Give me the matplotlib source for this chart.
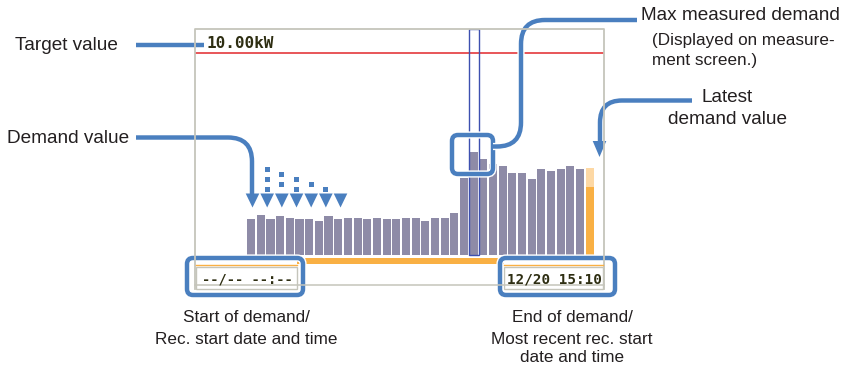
import numpy as np
import matplotlib
matplotlib.use("Agg")
import matplotlib.pyplot as plt
from matplotlib.path import Path
from matplotlib.patches import PathPatch, Polygon, Rectangle, FancyBboxPatch
import matplotlib.patheffects as pe

# ── data (kW) ────────────────────────────────────────────────────────────
demand = [1.75, 1.98, 1.75, 1.90, 1.83, 1.75, 1.75, 1.66, 1.90, 1.75,
          1.83, 1.83, 1.75, 1.83, 1.75, 1.75, 1.83, 1.83, 1.66, 1.83,
          1.83, 2.07, 3.81, 5.10, 4.72, 4.48, 4.39, 4.06, 4.06, 3.73,
          4.23, 4.14, 4.23, 4.39, 4.23]
latest_now = 3.35
latest_pred = 4.31
target_kw = 10.0
target_label = "10.00kW"
start_label = "--/-- --:--"
end_label = "12/20 15:10"

BAR = "#8e8ba7"
ORANGE = "#f9b044"
ORANGE_LT = "#fdd8a4"
BLUE = "#4a7fbf"
FRAME = "#c5c5bb"
RED = "#e4383c"
TXT = "#231f20"
LCD = "#2e2e12"

W, H = 852, 366
fig = plt.figure(figsize=(W / 100, H / 100), dpi=100, facecolor="white")

# ── screen (chart) axes, placed in pixel space ──────────────────────────
sx0, sx1, sy0, sy1 = 195, 604, 29, 285
ax = fig.add_axes([sx0 / W, 1 - sy1 / H, (sx1 - sx0) / W, (sy1 - sy0) / H])
ax.set_xlim(-5.81, 36.48)
ax.set_ylim(-1.51, 11.19)
ax.axis("off")

x = np.arange(len(demand))
ax.bar(x, demand, width=0.84, color=BAR, zorder=2)
n = len(demand)
ax.bar([n], [latest_pred], width=0.84, color=ORANGE_LT, zorder=2)
ax.bar([n], [latest_now], width=0.84, color=ORANGE, zorder=3)
ax.axhline(target_kw, color=RED, lw=1.2, zorder=2)
imax = int(np.argmax(demand))
ax.add_patch(Rectangle((imax - 0.52, 0), 1.04, 11.19, fill=False,
                       edgecolor="#3d50b0", lw=1.0, zorder=4))

# ── overlay axes in pixel coordinates for frame + callouts ──────────────
ov = fig.add_axes([0, 0, 1, 1], zorder=5)
ov.set_xlim(0, W)
ov.set_ylim(H, 0)
ov.axis("off")
ov.patch.set_alpha(0)

# screen frame
ov.plot([sx0, sx0, sx1, sx1], [289, sy0, sy0, 289], color=FRAME, lw=1.3)
ov.plot([sx0, sx1], [285, 285], color=FRAME, lw=1.1)
# elapsed-period strip
ov.add_patch(Rectangle((sx0 + 1, 258), sx1 - sx0 - 2, 6, color=ORANGE, lw=0))

ov.text(206, 43.5, target_label, family="DejaVu Sans Mono", weight="bold",
        fontsize=11.5, color=LCD, ha="left", va="center")

halo = [pe.Stroke(linewidth=5.2, foreground="white"), pe.Normal()]


def rounded(points, r):
    verts, codes = [points[0]], [Path.MOVETO]
    for i in range(1, len(points) - 1):
        p0, p1, p2 = (np.array(p, float) for p in points[i - 1:i + 2])
        d1 = (p1 - p0) / np.linalg.norm(p1 - p0)
        d2 = (p2 - p1) / np.linalg.norm(p2 - p1)
        verts += [p1 - d1 * r, p1, p1 + d2 * r]
        codes += [Path.LINETO, Path.CURVE3, Path.CURVE3]
    verts.append(points[-1])
    codes.append(Path.LINETO)
    return Path(verts, codes)


def connector(points, r=24):
    ov.add_patch(PathPatch(rounded(points, r), fill=False, edgecolor=BLUE,
                           lw=3.2, capstyle="butt", path_effects=halo))


def arrowhead(cx, top, tip, hw=6.8):
    ov.add_patch(Polygon([(cx - hw, top), (cx + hw, top), (cx, tip)],
                         closed=True, color=BLUE, lw=0))


def callout_box(x0, y0, x1, y1):
    ov.add_patch(FancyBboxPatch((x0, y0), x1 - x0, y1 - y0,
                                boxstyle="round,pad=0,rounding_size=6",
                                fill=False, edgecolor=BLUE, lw=3.2,
                                path_effects=halo))


# target value
connector([(136, 45), (204, 45)])
ov.text(15, 46, "Target value", family="Liberation Sans", fontsize=13.7,
        color=TXT, ha="left", va="center")

# demand value + falling arrows
connector([(136, 137.5), (252, 137.5), (252, 195)], r=24)
ov.text(7, 138.5, "Demand value", family="Liberation Sans", fontsize=13.7,
        color=TXT, ha="left", va="center")
for i in range(7):
    cx = 252.5 + 14.67 * i
    arrowhead(cx, 193.5, 207.5)
    if 1 <= i <= 5:
        y = 169.3 + 5 * (i - 1)
        while y < 192:
            ov.add_patch(Rectangle((cx - 2.4, y - 2.4), 4.8, 4.8,
                                   color=BLUE, lw=0))
            y += 10

# max measured demand
callout_box(452, 135, 493, 174)
connector([(493, 146.5), (521, 146.5), (521, 20), (637, 20)], r=24)
ov.text(641, 15.5, "Max measured demand", family="Liberation Sans",
        fontsize=13.7, color=TXT, ha="left", va="center")
ov.text(652, 40, "(Displayed on measure-", family="Liberation Sans",
        fontsize=12.3, color=TXT, ha="left", va="center")
ov.text(652, 60, "ment screen.)", family="Liberation Sans",
        fontsize=12.3, color=TXT, ha="left", va="center")

# latest demand value
connector([(692, 100.5), (600, 100.5), (600, 143)], r=22)
arrowhead(599.5, 141, 157)
ov.text(727, 97.5, "Latest", family="Liberation Sans", fontsize=13.7,
        color=TXT, ha="center", va="center")
ov.text(727, 119.5, "demand value", family="Liberation Sans", fontsize=13.7,
        color=TXT, ha="center", va="center")

# date fields
for fx0, fx1, label in [(196, 297, start_label), (504, 603, end_label)]:
    ov.add_patch(Rectangle((fx0, 259), fx1 - fx0, 31, color="white", lw=0))
    ov.plot([fx0, fx1], [265, 265], color=ORANGE, lw=1.0)
    ov.add_patch(Rectangle((fx0, 267), fx1 - fx0, 22, fill=False,
                           edgecolor=FRAME, lw=1.0))
ov.text(202, 279.5, start_label, family="DejaVu Sans Mono", weight="bold",
        fontsize=9.8, color=LCD, ha="left", va="center")
ov.text(507, 279.5, end_label, family="DejaVu Sans Mono", weight="bold",
        fontsize=10.3, color=LCD, ha="left", va="center")
callout_box(187, 258, 303, 295)
callout_box(500, 258, 615, 295)

ov.text(246, 317, "Start of demand/", family="Liberation Sans",
        fontsize=12.3, color=TXT, ha="center", va="center")
ov.text(246, 339.5, "Rec. start date and time", family="Liberation Sans",
        fontsize=12.3, color=TXT, ha="center", va="center")
ov.text(572, 317, "End of demand/", family="Liberation Sans",
        fontsize=12.3, color=TXT, ha="center", va="center")
ov.text(572, 339.5, "Most recent rec. start", family="Liberation Sans",
        fontsize=12.3, color=TXT, ha="center", va="center")
ov.text(572, 357.5, "date and time", family="Liberation Sans",
        fontsize=12.3, color=TXT, ha="center", va="center")

fig.savefig("out.png", dpi=100, facecolor="white")
